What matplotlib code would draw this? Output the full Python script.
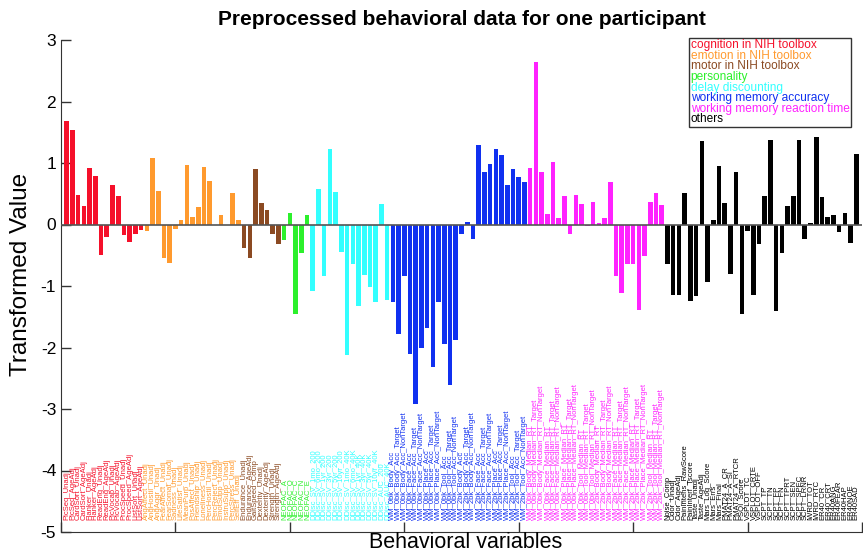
import matplotlib.pyplot as plt

plt.rcParams["font.family"] = ["Liberation Sans", "DejaVu Sans"]
plt.rcParams["axes.unicode_minus"] = False

# grupos de variaveis comportamentais
group_names = [
    "cognition in NIH toolbox",
    "emotion in NIH toolbox",
    "motor in NIH toolbox",
    "personality",
    "delay discounting",
    "working memory accuracy",
    "working memory reaction time",
    "others",
]
group_colors = ["#f5102a", "#ff9a2e", "#8b4a22", "#2cf02c", "#33ffff", "#1030f0", "#ff22ff", "#000000"]

cognition_vals = [1.68, 1.53, 0.48, 0.30, 0.92, 0.79, -0.50, -0.20, 0.65, 0.47, -0.17, -0.29, -0.15, -0.09]
emotion_vals = [-0.11, 1.08, 0.55, -0.55, -0.63, -0.07, 0.08, 0.96, 0.12, 0.29, 0.94, 0.70, 0.0, 0.15, 0.0, 0.51, 0.07]
motor_vals = [-0.39, -0.55, 0.91, 0.35, 0.23, -0.15, -0.31]
personality_vals = [-0.26, 0.19, -1.46, -0.47, 0.15]
delay_vals = [-1.08, 0.57, -0.83, 1.22, 0.53, -0.44, -2.13, -0.64, -1.33, -0.82, -1.01, -1.26, 0.33, -1.22]
wm_acc_vals = [-1.26, -1.78, -0.83, -2.10, -2.92, -2.01, -1.69, -2.31, -1.26, -1.94, -2.61, -1.88,
               -0.15, 0.04, -0.24, 1.30, 0.85, 0.99, 1.23, 1.13, 0.64, 0.90, 0.77, 0.69]
wm_rt_vals = [0.92, 2.65, 0.86, 0.17, 1.02, 0.11, 0.47, -0.16, 0.48, 0.34, -0.03, 0.36,
              0.03, 0.10, 0.69, -0.83, -1.12, -0.64, -0.64, -1.39, -0.51, 0.36, 0.51, 0.32]
others_vals = [-0.65, -1.14, -1.14, 0.52, -1.24, -1.17, 1.36, -0.93, 0.07, 0.95, 0.35, -0.80,
               0.86, -1.45, -0.11, -1.14, -0.31, 0.47, 1.38, -1.40, -0.47, 0.30, 0.47, 1.38,
               -0.23, 0.03, 1.42, 0.44, 0.12, 0.16, -0.13, 0.19, -0.30, 1.15]

cognition_labels = ["PicSeq_Unadj", "PicSeq_AgeAdj", "CardSort_Unadj", "CardSort_AgeAdj", "Flanker_Unadj",
                    "Flanker_AgeAdj", "ReadEng_Unadj", "ReadEng_AgeAdj", "PicVocab_Unadj", "PicVocab_AgeAdj",
                    "ProcSpeed_Unadj", "ProcSpeed_AgeAdj", "ListSort_Unadj", "ListSort_AgeAdj"]
emotion_labels = ["AngAffect_Unadj", "AngHostil_Unadj", "AngAggr_Unadj", "FearAffect_Unadj", "FearSomat_Unadj",
                  "Sadness_Unadj", "LifeSatisf_Unadj", "MeanPurp_Unadj", "PosAffect_Unadj", "Friendship_Unadj",
                  "Loneliness_Unadj", "PercHostil_Unadj", "PercReject_Unadj", "EmotSupp_Unadj",
                  "InstruSupp_Unadj", "PercStress_Unadj", "SelfEff_Unadj"]
motor_labels = ["Endurance_Unadj", "Endurance_AgeAdj", "GaitSpeed_Comp", "Dexterity_Unadj",
                "Dexterity_AgeAdj", "Strength_Unadj", "Strength_AgeAdj"]
personality_labels = ["NEOFAC_A", "NEOFAC_O", "NEOFAC_C", "NEOFAC_N", "NEOFAC_E"]
delay_labels = ["DDisc_SV_1mo_200", "DDisc_SV_6mo_200", "DDisc_SV_1yr_200", "DDisc_SV_3yr_200",
                "DDisc_SV_5yr_200", "DDisc_SV_10yr_200", "DDisc_SV_1mo_40K", "DDisc_SV_6mo_40K",
                "DDisc_SV_1yr_40K", "DDisc_SV_3yr_40K", "DDisc_SV_5yr_40K", "DDisc_SV_10yr_40K",
                "DDisc_AUC_200", "DDisc_AUC_40K"]
wm_acc_labels = ["WM_0bk_Body_Acc", "WM_0bk_Body_Acc_Target", "WM_0bk_Body_Acc_NonTarget",
                 "WM_0bk_Face_Acc", "WM_0bk_Face_Acc_Target", "WM_0bk_Face_Acc_NonTarget",
                 "WM_0bk_Place_Acc", "WM_0bk_Place_Acc_Target", "WM_0bk_Place_Acc_NonTarget",
                 "WM_0bk_Tool_Acc", "WM_0bk_Tool_Acc_Target", "WM_0bk_Tool_Acc_NonTarget",
                 "WM_2bk_Body_Acc", "WM_2bk_Body_Acc_Target", "WM_2bk_Body_Acc_NonTarget",
                 "WM_2bk_Face_Acc", "WM_2bk_Face_Acc_Target", "WM_2bk_Face_Acc_NonTarget",
                 "WM_2bk_Place_Acc", "WM_2bk_Place_Acc_Target", "WM_2bk_Place_Acc_NonTarget",
                 "WM_2bk_Tool_Acc", "WM_2bk_Tool_Acc_Target", "WM_2bk_Tool_Acc_NonTarget"]
wm_rt_labels = ["WM_0bk_Body_Median_RT", "WM_0bk_Body_Median_RT_Target", "WM_0bk_Body_Median_RT_NonTarget",
                "WM_0bk_Face_Median_RT", "WM_0bk_Face_Median_RT_Target", "WM_0bk_Face_Median_RT_NonTarget",
                "WM_0bk_Place_Median_RT", "WM_0bk_Place_Median_RT_Target", "WM_0bk_Place_Median_RT_NonTarget",
                "WM_0bk_Tool_Median_RT", "WM_0bk_Tool_Median_RT_Target", "WM_0bk_Tool_Median_RT_NonTarget",
                "WM_2bk_Body_Median_RT", "WM_2bk_Body_Median_RT_Target", "WM_2bk_Body_Median_RT_NonTarget",
                "WM_2bk_Face_Median_RT", "WM_2bk_Face_Median_RT_Target", "WM_2bk_Face_Median_RT_NonTarget",
                "WM_2bk_Place_Median_RT", "WM_2bk_Place_Median_RT_Target", "WM_2bk_Place_Median_RT_NonTarget",
                "WM_2bk_Tool_Median_RT", "WM_2bk_Tool_Median_RT_Target", "WM_2bk_Tool_Median_RT_NonTarget"]
others_labels = ["Noise_Comp", "Odor_Unadj", "Odor_AgeAdj", "PainIntens_RawScore", "PainInterf_Tscore",
                 "Taste_Unadj", "Taste_AgeAdj", "Mars_Log_Score", "Mars_Errs", "Mars_Final",
                 "PMAT24_A_CR", "PMAT24_A_SI", "PMAT24_A_RTCR", "PSQI_Score", "VSPLOT_TC",
                 "VSPLOT_CRTE", "VSPLOT_OFF", "SCPT_TP", "SCPT_TN", "SCPT_FP", "SCPT_FN",
                 "SCPT_TPRT", "SCPT_SEN", "SCPT_SPEC", "SCPT_LRNR", "IWRD_TOT", "IWRD_RTC",
                 "ER40_CR", "ER40_CRT", "ER40ANG", "ER40FEAR", "ER40HAP", "ER40NOE", "ER40SAD"]

all_vals = [cognition_vals, emotion_vals, motor_vals, personality_vals,
            delay_vals, wm_acc_vals, wm_rt_vals, others_vals]
all_labels = [cognition_labels, emotion_labels, motor_labels, personality_labels,
              delay_labels, wm_acc_labels, wm_rt_labels, others_labels]

fig = plt.figure(figsize=(8.63, 5.55), dpi=100)
ax = fig.add_axes([61 / 863, 23 / 555, 801 / 863, 492 / 555])

handles = []
start = 1
for vals, labels, name, color in zip(all_vals, all_labels, group_names, group_colors):
    xs = list(range(start, start + len(vals)))
    bars = ax.bar(xs, vals, width=0.8, color=color, label=name, zorder=2)
    handles.append(bars)
    # nomes das variaveis escritos na vertical, embaixo das barras
    for x, lab in zip(xs, labels):
        ax.text(x, -4.8, lab, rotation=90, ha="center", va="bottom", fontsize=5.5, color=color)
    start += len(vals)

ax.axhline(0, color="#555555", lw=1.2, zorder=3)

ax.set_xlim(0, 140)
ax.set_ylim(-5, 3)
ax.set_xticks(range(0, 141, 20))
ax.set_xticklabels([])
ax.set_yticks(range(-5, 4))
ax.tick_params(direction="in", length=7, width=1, color="#333333", labelsize=12.5)
for side in ["top", "right"]:
    ax.spines[side].set_visible(False)
for side in ["left", "bottom"]:
    ax.spines[side].set_color("#333333")

ax.set_title("Preprocessed behavioral data for one participant", fontsize=15, fontweight="bold", pad=11)
ax.set_ylabel("Transformed Value", fontsize=17.5)
ax.yaxis.set_label_coords(-0.036, 0.524)
# rotulo do eixo x colado na borda de baixo da figura
fig.text(0.54, 0.003, "Behavioral variables", ha="center", va="bottom", fontsize=15.5)

leg = ax.legend(handles, group_names, loc="upper left", bbox_to_anchor=(0.784, 1.005),
                handlelength=0, handletextpad=0, fontsize=8.6, fancybox=False, framealpha=1,
                edgecolor="#333333", borderpad=0.15, labelspacing=-0.12, borderaxespad=0)
for txt, color in zip(leg.get_texts(), group_colors):
    txt.set_color(color)
for h in leg.legend_handles:
    h.set_visible(False)

fig.savefig("out.png", dpi=100)
